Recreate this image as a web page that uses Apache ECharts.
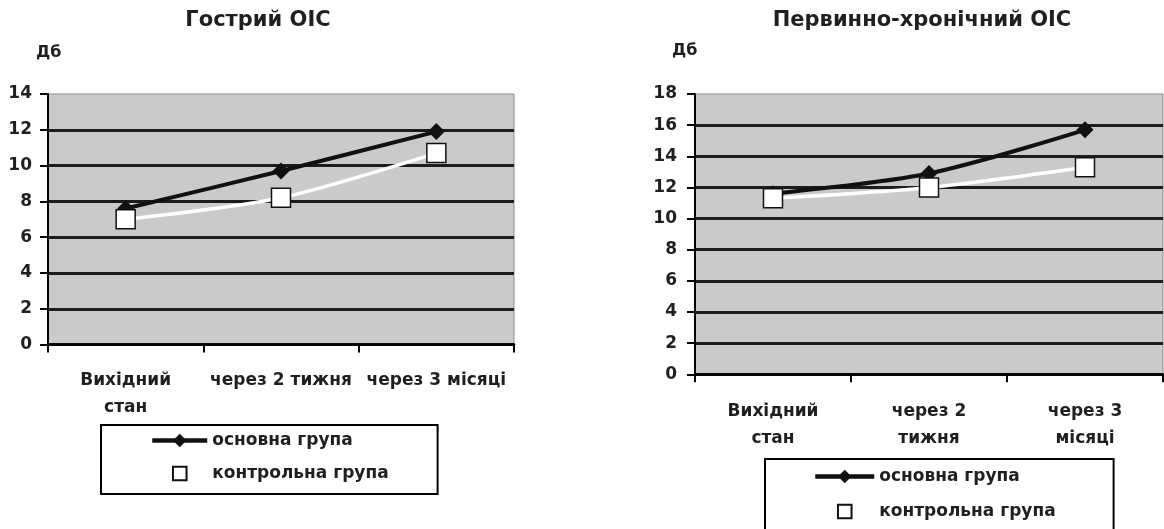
<!DOCTYPE html>
<html>
<head>
<meta charset="utf-8">
<script src="https://cdn.jsdelivr.net/npm/echarts@6/dist/echarts.min.js"></script>
<style>
  html, body { margin: 0; padding: 0; background: #fff; }
  #chart { width: 1164px; height: 529px; }
</style>
</head>
<body>
<div id="chart"></div>
<script>
// Hearing thresholds (dB) at three check-points, two patient groups
const acuteCategories = ['Вихідний\nстан', 'через 2 тижня', 'через 3 місяці'];
const chronicCategories = ['Вихідний\nстан', 'через 2\nтижня', 'через 3\nмісяці'];

const seriesNames = ['основна група', 'контрольна група'];

// Гострий ОІС
const acuteMain = [7.6, 9.7, 11.9];
const acuteControl = [7.0, 8.2, 10.7];

// Первинно-хронічний ОІС
const chronicMain = [11.6, 12.9, 15.7];
const chronicControl = [11.3, 12.0, 13.3];

const acuteMax = 14;
const chronicMax = 18;
const yStep = 2;

const FONT = 'DejaVu Sans';
const INK = '#1f1f1f';
const PLOT_BG = '#cacaca';
const GRID_LINE = '#1c1c1c';

function valueAxis(gridIndex, max, labelMargin) {
  return {
    type: 'value', gridIndex, min: 0, max, interval: yStep,
    axisLine: { show: true, lineStyle: { color: '#000', width: 2 } },
    axisTick: { show: true, length: 8, lineStyle: { color: '#000', width: 2 } },
    axisLabel: { margin: labelMargin, color: INK, fontFamily: FONT, fontWeight: 'bold', fontSize: 17 },
    splitLine: { show: true, showMaxLine: false, lineStyle: { color: GRID_LINE, width: 2.8 } }
  };
}

function categoryAxis(gridIndex, data, labelMargin) {
  return {
    type: 'category', gridIndex, data, boundaryGap: true,
    axisLine: { show: true, lineStyle: { color: '#000', width: 2.5 } },
    axisTick: { show: true, length: 8, alignWithLabel: false, lineStyle: { color: '#000', width: 2 } },
    axisLabel: { margin: labelMargin, color: INK, fontFamily: FONT, fontWeight: 'bold', fontSize: 17,
                 lineHeight: 27, interval: 0 },
    splitLine: { show: false }
  };
}

function mainSeries(idx, data) {
  return {
    name: seriesNames[0], type: 'line', xAxisIndex: idx, yAxisIndex: idx, data,
    smooth: 0.3, symbol: 'diamond', symbolSize: 17,
    lineStyle: { color: '#111', width: 4 },
    itemStyle: { color: '#111' }, z: 2
  };
}

function controlSeries(idx, data) {
  return {
    name: seriesNames[1], type: 'line', xAxisIndex: idx, yAxisIndex: idx, data,
    smooth: 0.3, symbol: 'rect', symbolSize: 19,
    lineStyle: { color: '#ffffff', width: 3.5 },
    itemStyle: { color: '#ffffff', borderColor: '#111', borderWidth: 1.5 }, z: 3
  };
}

// Boxed legend: thick black sample line with a diamond, then the hollow square
function legendBox(left, top, itemWidth, itemGap, padding, height) {
  return {
    orient: 'vertical', left, top, height, itemWidth, itemHeight: 17, itemGap,
    data: [
      { name: seriesNames[0], lineStyle: { color: '#111', width: 4.5 }, itemStyle: { color: '#111' } },
      { name: seriesNames[1], lineStyle: { color: '#fff', width: 0 },
        itemStyle: { color: '#fff', borderColor: '#111', borderWidth: 2 } }
    ],
    padding, borderColor: '#000', borderWidth: 2, backgroundColor: '#fff',
    selectedMode: false,
    textStyle: { color: INK, fontFamily: FONT, fontWeight: 'bold', fontSize: 17 }
  };
}

const titleStyle = { color: INK, fontFamily: FONT, fontWeight: 'bold', fontSize: 21 };
const unitStyle = { color: INK, fontFamily: FONT, fontWeight: 'bold', fontSize: 16 };

const chart = echarts.init(document.getElementById('chart'), null, { renderer: 'canvas' });
chart.setOption({
  animation: false,
  backgroundColor: '#fff',
  title: [
    { text: 'Гострий ОІС', left: 258, top: 10, textAlign: 'center', textStyle: titleStyle, padding: 0 },
    { text: 'Первинно-хронічний ОІС', left: 922, top: 10, textAlign: 'center', textStyle: titleStyle, padding: 0 },
    { text: 'Дб', left: 36, top: 45, textStyle: unitStyle, padding: 0 },
    { text: 'Дб', left: 672, top: 43, textStyle: unitStyle, padding: 0 }
  ],
  grid: [
    { left: 48, top: 94, width: 466, height: 250.6, show: true, backgroundColor: PLOT_BG,
      borderColor: '#8c8c8c', borderWidth: 1 },
    { left: 695, top: 94, width: 468, height: 280.3, show: true, backgroundColor: PLOT_BG,
      borderColor: '#8c8c8c', borderWidth: 1 }
  ],
  xAxis: [categoryAxis(0, acuteCategories, 22), categoryAxis(1, chronicCategories, 24)],
  yAxis: [valueAxis(0, acuteMax, 16), valueAxis(1, chronicMax, 18)],
  legend: [
    legendBox(101, 425, 55, 16, [7, 49, 12, 49], 100),
    legendBox(765, 459, 59, 18, [9, 58, 24, 48], 120)
  ],
  series: [
    mainSeries(0, acuteMain),
    controlSeries(0, acuteControl),
    mainSeries(1, chronicMain),
    controlSeries(1, chronicControl)
  ]
});
</script>
</body>
</html>
